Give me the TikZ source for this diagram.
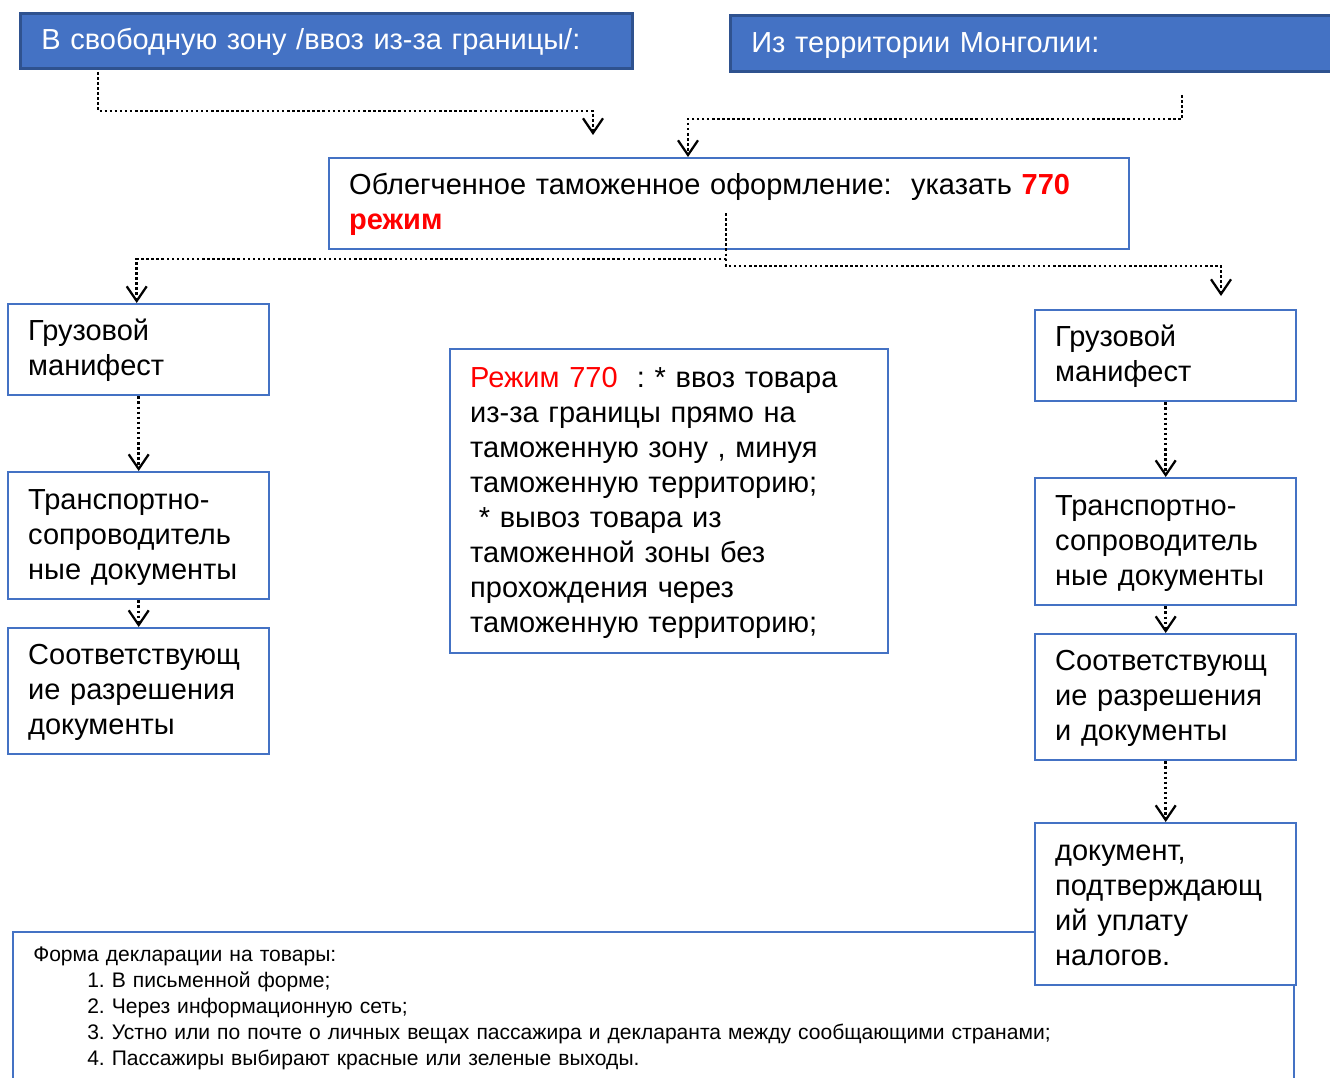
\documentclass[tikz,border=0pt]{standalone}
\usepackage{fontspec}
\setmainfont{Liberation Sans}
\usetikzlibrary{arrows.meta}
\definecolor{pblue}{HTML}{4472C4}
\definecolor{dblue}{HTML}{2F528F}
\definecolor{pred}{HTML}{FF0000}
\newcommand{\bigtxt}{\fontsize{21.75pt}{26.25pt}\selectfont\frenchspacing}
\newcommand{\smalltxt}{\fontsize{15.8pt}{19.5pt}\selectfont\frenchspacing}
\newcommand{\lstrut}{\rule[-6.55pt]{0pt}{26.25pt}}
\begin{document}
\begin{tikzpicture}[x=0.75pt,y=-0.75pt,
  wbox/.style={draw=pblue, line width=1.8pt, fill=white, anchor=north west,
    inner ysep=0pt, inner xsep=15pt, align=left, font=\bigtxt,
    execute at begin node=\lstrut, execute at end node=\lstrut},
  hbox/.style={draw=dblue, line width=2pt, fill=pblue, anchor=north west,
    inner ysep=0pt, inner xsep=15.75pt, align=left, font=\bigtxt, text=white,
    execute at begin node=\lstrut, execute at end node=\lstrut},
  conn/.style={line width=1.9pt, dash pattern=on 1.9pt off 1.9pt,
    -{Straight Barb[length=11pt,width=15pt,line width=1.7pt]}}
]
\clip (0,0) rectangle (1330,1077);
\fill[white] (0,0) rectangle (1330,1077);

% bottom frame (behind)
\node[draw=pblue, line width=1.8pt, anchor=north west, inner sep=0pt,
  minimum width=960.75pt, minimum height=150pt] (form) at (12,931) {};
\node[anchor=base west, inner sep=0pt, font=\smalltxt, align=left, text width=850pt] (formtxt) at (33,961)
 {Форма декларации на товары:\\
  \hspace*{40.5pt}1. В письменной форме;\\
  \hspace*{40.5pt}2. Через информационную сеть;\\
  \hspace*{40.5pt}3. Устно или по почте о личных вещах пассажира и декларанта между сообщающими странами;\\
  \hspace*{40.5pt}4. Пассажиры выбирают красные или зеленые выходы.};

% top boxes
\node[hbox, text width=427.5pt, minimum height=41.25pt] (tl) at (19,12)
 {В свободную зону /ввоз из-за границы/:};
\node[hbox, text width=440pt, minimum height=42pt] (tr) at (729,14)
 {Из территории Монголии:};

% middle box
\node[wbox, text width=570pt, minimum height=68.25pt] (mid) at (328,157)
 {Облегченное таможенное оформление:\ \ указать \textcolor{pred}{\textbf{770}}\\
  \textcolor{pred}{\textbf{режим}}};

% left column
\node[wbox, text width=165.75pt, minimum height=68.25pt] (l1) at (7,303)
 {Грузовой\\манифест};
\node[wbox, text width=165.75pt, minimum height=95.25pt] (l2) at (7,471)
 {Транспортно-\\сопроводитель\\ные документы};
\node[wbox, text width=165.75pt, minimum height=94.5pt] (l3) at (7,627)
 {Соответствующ\\ие разрешения\\документы};

% right column
\node[wbox, text width=165.75pt, minimum height=68.25pt] (r1) at (1034,309)
 {Грузовой\\манифест};
\node[wbox, text width=165.75pt, minimum height=95.25pt] (r2) at (1034,477)
 {Транспортно-\\сопроводитель\\ные документы};
\node[wbox, text width=165.75pt, minimum height=94.5pt] (r3) at (1034,633)
 {Соответствующ\\ие разрешения\\и документы};
\node[wbox, text width=165.75pt, minimum height=121.5pt] (r4) at (1034,822)
 {документ,\\подтверждающ\\ий уплату\\налогов.};

% centre box
\node[wbox, text width=298.5pt, minimum height=228pt] (mode) at (449,348)
 {\textcolor{pred}{Режим 770}\ \ : * ввоз товара\\
  из-за границы прямо на\\
  таможенную зону , минуя\\
  таможенную территорию;\\
  \hspace*{0.3em}* вывоз товара из\\
  таможенной зоны без\\
  прохождения через\\
  таможенную территорию;};

% connectors
\coordinate (s1) at (98,72);
\coordinate (e1) at (593,135);
\draw[conn] (s1) |- ([yshift=18pt]e1) -- (e1);

\coordinate (s2) at (1182,95);
\draw[conn] (s2) |- ([xshift=270pt,yshift=28.5pt]mid.north west) -- ([xshift=270pt]mid.north west);

\coordinate (md) at (726,213);
\coordinate (e3) at (1221,296);
\draw[conn] (md) |- ([xshift=-1.5pt,yshift=33pt]l1.north) -- ([xshift=-1.5pt]l1.north);
\draw[conn] (md) |- ([yshift=22.5pt]e3) -- (e3);

\draw[conn] (l1.south) -- (l2.north);
\draw[conn] (l2.south) -- (l3.north);
\draw[conn] (r1.south) -- (r2.north);
\draw[conn] (r2.south) -- (r3.north);
\draw[conn] (r3.south) -- (r4.north);
\end{tikzpicture}
\end{document}
